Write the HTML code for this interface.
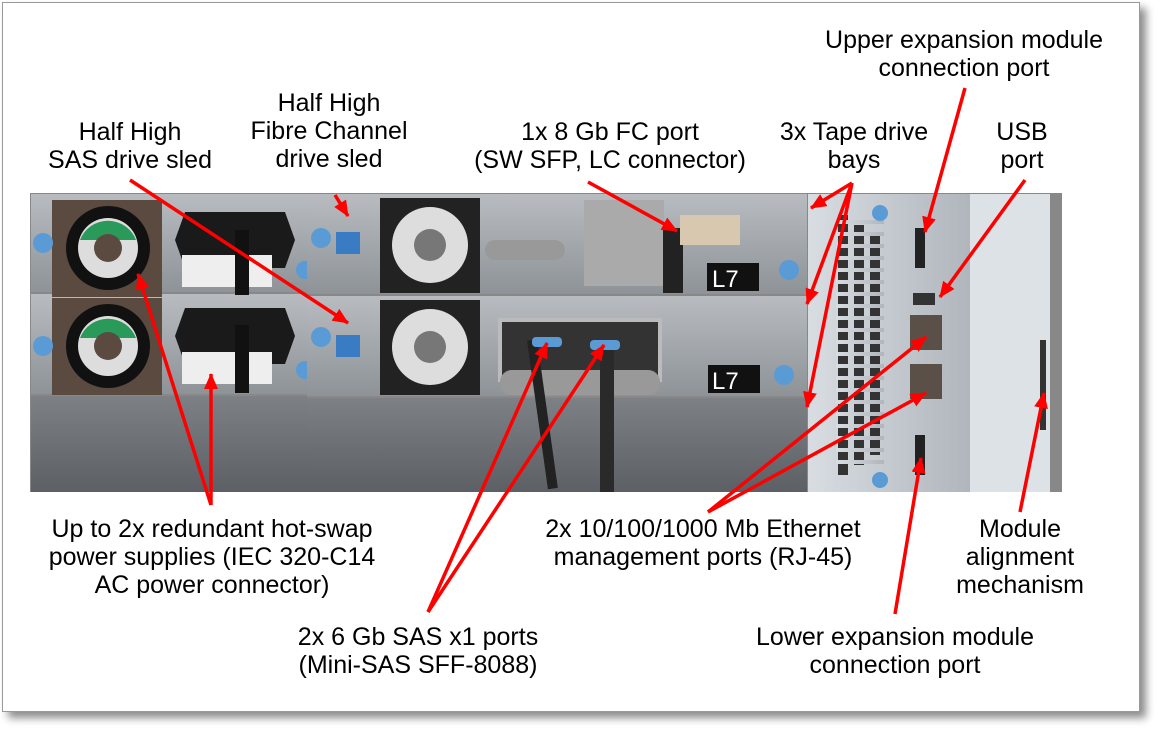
<!DOCTYPE html>
<html><head><meta charset="utf-8"><style>
html,body{margin:0;padding:0;background:#fff;}
body{width:1160px;height:730px;position:relative;overflow:hidden;font-family:"Liberation Sans",sans-serif;}
.frame{position:absolute;left:2px;top:2px;width:1136px;height:708px;border:1px solid #999;background:#fff;box-shadow:6px 6px 8px rgba(0,0,0,0.45);}
.t{position:absolute;font-size:25px;line-height:28px;text-align:center;color:#000;white-space:nowrap;transform:translateX(-50%);}
svg{position:absolute;left:0;top:0;}
</style></head><body>
<div class="frame"></div>
<svg width="1160" height="730" viewBox="0 0 1160 730">
<defs>
<linearGradient id="met" x1="0" y1="0" x2="0" y2="1"><stop offset="0" stop-color="#b8bcc0"/><stop offset="1" stop-color="#8e9398"/></linearGradient>
<linearGradient id="dk" x1="0" y1="0" x2="0" y2="1"><stop offset="0" stop-color="#7d8186"/><stop offset="1" stop-color="#5c6065"/></linearGradient>
<linearGradient id="rt" x1="0" y1="0" x2="1" y2="0"><stop offset="0" stop-color="#d8dde2"/><stop offset="1" stop-color="#b0b6bc"/></linearGradient>
<marker id="a" markerWidth="16" markerHeight="14" refX="15" refY="7" orient="auto" markerUnits="userSpaceOnUse"><path d="M0,0 L16,7 L0,14 z" fill="#f00"/></marker>
</defs>
<rect x="30" y="193" width="1032" height="299" fill="#888"/>
<rect x="31" y="194" width="276" height="98" fill="url(#met)"/>
<rect x="31" y="294" width="276" height="100" fill="url(#met)"/>
<rect x="31" y="396" width="276" height="96" fill="url(#dk)"/>
<g>
<rect x="52" y="200" width="110" height="97" fill="#5a4a40"/>
<circle cx="108" cy="248" r="42" fill="#111"/><circle cx="108" cy="248" r="30" fill="#ddd"/><path d="M80,240 A30,30 0 0 1 136,240 Z" fill="#2a9a5a"/><circle cx="108" cy="248" r="14" fill="#5a4a40"/>
<rect x="52" y="298" width="110" height="97" fill="#5a4a40"/>
<circle cx="108" cy="346" r="42" fill="#111"/><circle cx="108" cy="346" r="30" fill="#ddd"/><path d="M80,338 A30,30 0 0 1 136,338 Z" fill="#2a9a5a"/><circle cx="108" cy="346" r="14" fill="#5a4a40"/>
<path d="M185,212 L285,212 L295,240 L285,268 L185,268 L175,240 Z" fill="#1a1a1a"/>
<path d="M185,308 L285,308 L295,336 L285,364 L185,364 L175,336 Z" fill="#1a1a1a"/>
<rect x="182" y="255" width="90" height="32" fill="#eee"/><rect x="182" y="352" width="90" height="32" fill="#eee"/>
<rect x="235" y="230" width="14" height="65" fill="#111"/><rect x="235" y="325" width="14" height="68" fill="#111"/>
<circle cx="43" cy="243" r="10" fill="#5b9bd5"/><circle cx="43" cy="346" r="10" fill="#5b9bd5"/>
<circle cx="305" cy="270" r="9" fill="#5b9bd5"/><circle cx="305" cy="370" r="9" fill="#5b9bd5"/>
</g>
<rect x="307" y="194" width="500" height="100" fill="url(#met)"/>
<rect x="307" y="296" width="500" height="100" fill="url(#met)"/>
<rect x="307" y="398" width="500" height="94" fill="url(#dk)"/>
<rect x="380" y="198" width="100" height="95" fill="#222"/><circle cx="430" cy="245" r="38" fill="#ddd"/><circle cx="430" cy="245" r="16" fill="#777"/>
<rect x="380" y="300" width="100" height="95" fill="#222"/><circle cx="430" cy="347" r="38" fill="#ddd"/><circle cx="430" cy="347" r="16" fill="#777"/>
<rect x="336" y="232" width="24" height="22" fill="#3a7cc4"/><rect x="336" y="335" width="24" height="22" fill="#3a7cc4"/>
<circle cx="321" cy="238" r="10" fill="#5b9bd5"/><circle cx="321" cy="337" r="10" fill="#5b9bd5"/>
<rect x="485" y="240" width="80" height="20" rx="10" fill="#999"/>
<rect x="584" y="200" width="80" height="86" fill="#aaa"/>
<rect x="663" y="228" width="20" height="65" fill="#222"/>
<rect x="680" y="215" width="60" height="30" fill="#d8c8b0"/>
<rect x="707" y="263" width="52" height="28" fill="#111"/><text x="712" y="287" font-size="24" fill="#fff" font-family="Liberation Sans">L7</text>
<circle cx="789" cy="270" r="10" fill="#5b9bd5"/>
<rect x="500" y="320" width="160" height="60" fill="#333" stroke="#bbb" stroke-width="4"/>
<rect x="500" y="370" width="160" height="25" rx="12" fill="#999"/>
<rect x="527" y="340" width="10" height="150" fill="#222" transform="rotate(-8 532 340)"/>
<rect x="600" y="345" width="14" height="147" fill="#2a2a2a"/>
<rect x="532" y="337" width="30" height="10" rx="4" fill="#5b9bd5"/><rect x="590" y="340" width="30" height="10" rx="4" fill="#5b9bd5"/>
<rect x="708" y="365" width="52" height="28" fill="#111"/><text x="712" y="389" font-size="24" fill="#fff" font-family="Liberation Sans">L7</text>
<circle cx="784" cy="375" r="10" fill="#5b9bd5"/>
<rect x="808" y="194" width="162" height="298" fill="url(#rt)"/>
<g fill="#333">
<rect x="838" y="215" width="10" height="260"/><rect x="854" y="225" width="10" height="240"/><rect x="870" y="235" width="10" height="220"/>
</g>
<g fill="url(#rt)"><rect x="836" y="220" width="48" height="4"/><rect x="836" y="232" width="48" height="4"/><rect x="836" y="244" width="48" height="4"/><rect x="836" y="256" width="48" height="4"/><rect x="836" y="268" width="48" height="4"/><rect x="836" y="280" width="48" height="4"/><rect x="836" y="292" width="48" height="4"/><rect x="836" y="304" width="48" height="4"/><rect x="836" y="316" width="48" height="4"/><rect x="836" y="328" width="48" height="4"/><rect x="836" y="340" width="48" height="4"/><rect x="836" y="352" width="48" height="4"/><rect x="836" y="364" width="48" height="4"/><rect x="836" y="376" width="48" height="4"/><rect x="836" y="388" width="48" height="4"/><rect x="836" y="400" width="48" height="4"/><rect x="836" y="412" width="48" height="4"/><rect x="836" y="424" width="48" height="4"/><rect x="836" y="436" width="48" height="4"/><rect x="836" y="448" width="48" height="4"/><rect x="836" y="460" width="48" height="4"/></g>
<circle cx="880" cy="213" r="8" fill="#5b9bd5"/><circle cx="880" cy="480" r="8" fill="#5b9bd5"/>
<rect x="915" y="228" width="10" height="40" fill="#222"/>
<rect x="913" y="293" width="22" height="12" fill="#333"/>
<rect x="910" y="315" width="32" height="35" fill="#5a5048"/><rect x="910" y="364" width="32" height="35" fill="#5a5048"/>
<rect x="915" y="435" width="10" height="40" fill="#222"/>
<rect x="970" y="194" width="80" height="298" fill="#dde2e6"/>
<rect x="1040" y="340" width="6" height="90" fill="#333"/>
<g stroke="#f00" stroke-width="3.5" fill="none" marker-end="url(#a)">
<line x1="965" y1="88" x2="925" y2="232"/>
<line x1="1025" y1="180" x2="940" y2="297"/>
<line x1="852" y1="183" x2="811" y2="208"/>
<line x1="852" y1="183" x2="807" y2="304"/>
<line x1="852" y1="183" x2="807" y2="407"/>
<line x1="588" y1="182" x2="677" y2="231"/>
<line x1="335" y1="195" x2="348" y2="216"/>
<line x1="130" y1="180" x2="348" y2="323"/>
<line x1="211" y1="505" x2="138" y2="274"/>
<line x1="211" y1="505" x2="211" y2="374"/>
<line x1="428" y1="612" x2="547" y2="343"/>
<line x1="428" y1="612" x2="604" y2="345"/>
<line x1="708" y1="512" x2="926" y2="337"/>
<line x1="708" y1="512" x2="926" y2="393"/>
<line x1="895" y1="614" x2="921" y2="458"/>
<line x1="1020" y1="512" x2="1044" y2="393"/>
</g>
</svg>
<div class="t" style="left:964px;top:26px">Upper expansion module<br>connection port</div>
<div class="t" style="left:1022px;top:118px">USB<br>port</div>
<div class="t" style="left:854px;top:118px">3x Tape drive<br>bays</div>
<div class="t" style="left:610px;top:118px">1x 8 Gb FC port<br>(SW SFP, LC connector)</div>
<div class="t" style="left:329px;top:89px">Half High<br>Fibre Channel<br>drive sled</div>
<div class="t" style="left:130px;top:118px">Half High<br>SAS drive sled</div>
<div class="t" style="left:212px;top:515px">Up to 2x redundant hot-swap<br>power supplies (IEC 320-C14<br>AC power connector)</div>
<div class="t" style="left:703px;top:515px">2x 10/100/1000 Mb Ethernet<br>management ports (RJ-45)</div>
<div class="t" style="left:1020px;top:515px">Module<br>alignment<br>mechanism</div>
<div class="t" style="left:418px;top:623px">2x 6 Gb SAS x1 ports<br>(Mini-SAS SFF-8088)</div>
<div class="t" style="left:895px;top:623px">Lower expansion module<br>connection port</div>
</body></html>
